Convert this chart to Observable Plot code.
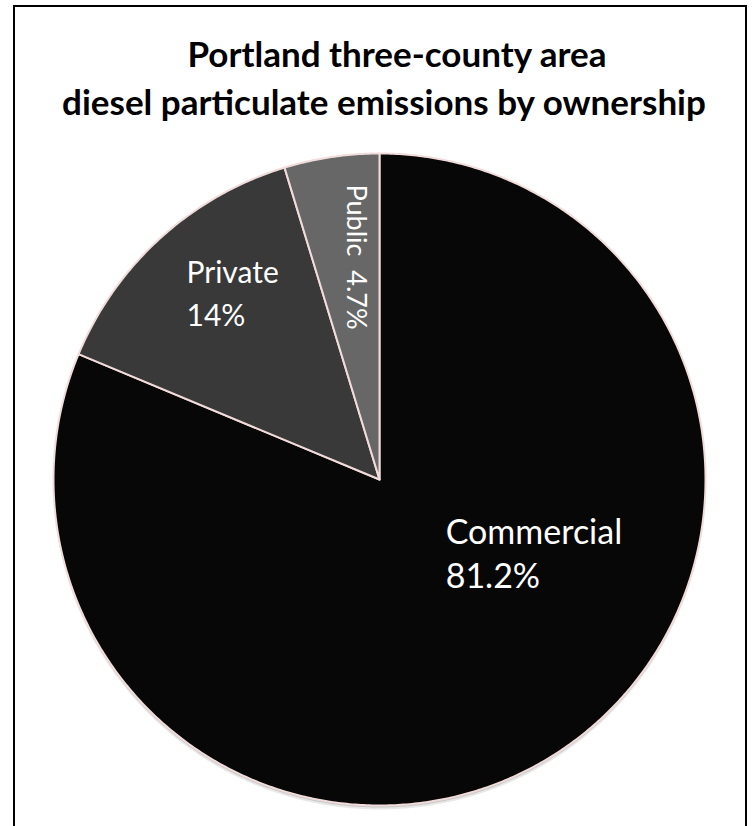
<!DOCTYPE html>
<html><head><meta charset="utf-8">
<script src="https://cdn.jsdelivr.net/npm/d3@7"></script>
<script src="https://cdn.jsdelivr.net/npm/@observablehq/plot@0.6"></script>
<style>
html,body{margin:0;padding:0;background:#fff;}
body{width:752px;height:826px;overflow:hidden;position:relative;font-family:Lato,sans-serif;}
#chart{position:absolute;left:0;top:0;}
#frame{position:absolute;left:13px;top:5px;width:734px;height:900px;box-sizing:border-box;border:2px solid #000;}
.t{position:absolute;white-space:nowrap;font-weight:700;font-size:35px;line-height:35px;color:#000;transform:translateX(-50%);}
</style></head><body>
<div id="chart"></div>
<div id="frame"></div>
<div class="t" style="left:397px;top:36px">Portland three-county area</div>
<div class="t" style="left:384px;top:84px">diesel particulate emissions by ownership</div>
<script>
// data
const categories = ["Commercial", "Private", "Public"];
const shares = [81.2, 14, 4.7];
const valueLabels = ["81.2%", "14%", "4.7%"];
const colors = ["#070707", "#393939", "#676767"];

// label layout (unit-circle coordinates)
const labelLayout = {
  Commercial: {x: 0.203, y: -0.222, fontSize: 34, lineHeight: 1.3, rotate: 0, sep: "\n"},
  Private: {x: -0.592, y: 0.58, fontSize: 30, lineHeight: 1.467, rotate: 0, sep: "\n"},
  Public: {x: -0.072, y: 0.905, fontSize: 27, lineHeight: 1, rotate: 90, sep: "\u00a0\u00a0"}
};

// slice geometry from shares
const total = d3.sum(shares);
let acc = 0;
const pts = [];
categories.forEach((c, i) => {
  const a0 = acc / total * 2 * Math.PI;
  acc += shares[i];
  const a1 = acc / total * 2 * Math.PI;
  pts.push({cat: c, x: 0, y: 0});
  const n = Math.max(2, Math.ceil((a1 - a0) / (Math.PI / 360)));
  for (let k = 0; k <= n; k++) {
    const a = a0 + (a1 - a0) * k / n;
    pts.push({cat: c, x: Math.sin(a), y: Math.cos(a)});
  }
  pts.push({cat: c, x: 0, y: 0});
});

const labels = categories.map((c, i) => ({cat: c, text: c + labelLayout[c].sep + valueLabels[i], ...labelLayout[c]}));

const textMarks = labels.map(d => Plot.text([d], {
  x: "x", y: "y", text: "text", fill: "white",
  textAnchor: "start", lineAnchor: "middle",
  fontSize: d.fontSize, lineHeight: d.lineHeight, rotate: d.rotate,
  fontFamily: "Lato"
}));

const chart = Plot.plot({
  width: 752, height: 826, margin: 0,
  style: {background: "none"},
  x: {domain: [-1, 1], range: [53, 705], axis: null},
  y: {domain: [-1, 1], range: [805, 153], axis: null},
  color: {domain: categories, range: colors},
  marks: [
    Plot.line(pts, {x: "x", y: "y", z: "cat", fill: "#d8d8d8", stroke: "none", dy: 4, fillOpacity: 0.6}),
    Plot.line(pts, {x: "x", y: "y", z: "cat", fill: "#b0b0b0", stroke: "none", dy: 2, fillOpacity: 0.6}),
    Plot.line(pts, {x: "x", y: "y", z: "cat", fill: "cat", stroke: "#f2dcdb", strokeWidth: 2, strokeLinejoin: "round"}),
    ...textMarks
  ]
});
document.getElementById("chart").appendChild(chart);
</script>
</body></html>
